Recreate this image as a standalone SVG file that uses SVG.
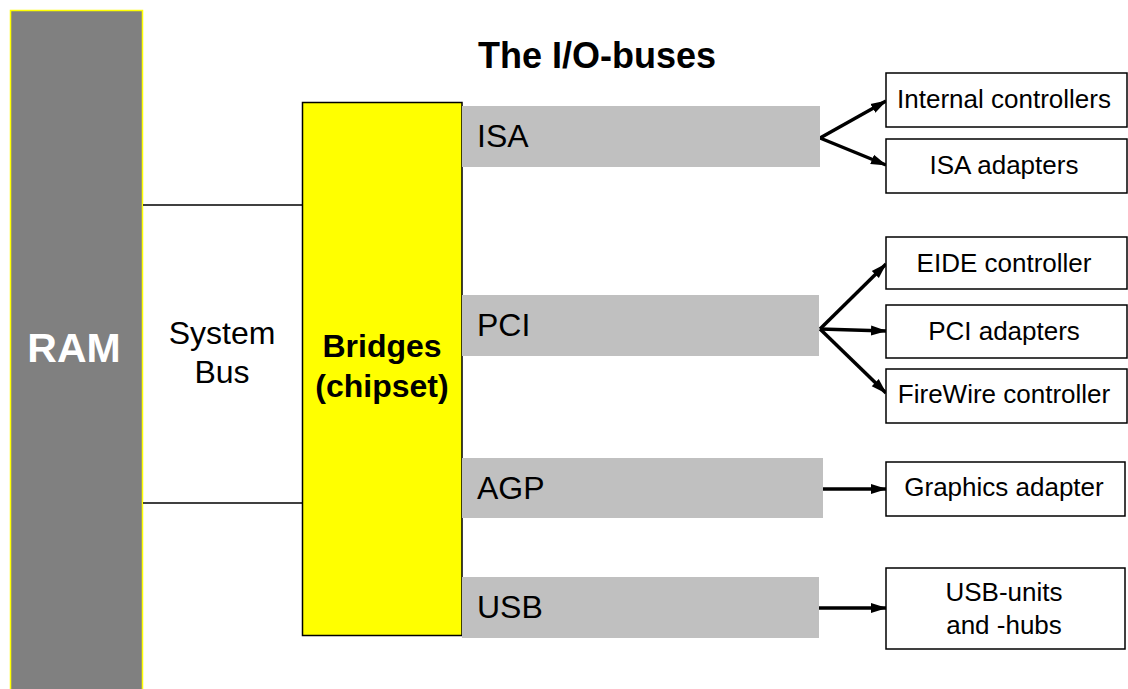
<svg xmlns="http://www.w3.org/2000/svg" width="1128" height="689" viewBox="0 0 1128 689">
<style>
.bar{fill:#c0c0c0}
.box{fill:#fff;stroke:#000;stroke-width:1.5}
.bus{font-family:"Liberation Sans",Arial,sans-serif;font-size:32px;fill:#000}
.bt{font-family:"Liberation Sans",Arial,sans-serif;font-size:26px;fill:#000;text-anchor:middle}
.big{font-family:"Liberation Sans",Arial,sans-serif;font-size:32px;fill:#000;text-anchor:middle}
.arr{stroke:#000;stroke-width:3.5;fill:none;marker-end:url(#ah)}
.sys{stroke:#000;stroke-width:1.5}
</style>
<defs>
<marker id="ah" markerUnits="userSpaceOnUse" markerWidth="16" markerHeight="12" refX="15" refY="6" orient="auto">
<path d="M0,1 L16,6 L0,11 z" fill="#000"/>
</marker>
</defs>
<rect width="1128" height="689" fill="#fff"/>
<g id="ram">
<rect x="10.5" y="10.5" width="132" height="680" fill="#808080" stroke="#ffff00" stroke-width="1.5"/>
<text x="74" y="362" font-family="'Liberation Sans',Arial,sans-serif" font-size="41" font-weight="bold" fill="#fff" text-anchor="middle">RAM</text>
</g>
<g id="connectors">
<line class="sys" x1="143" y1="205" x2="302" y2="205"/>
<line class="sys" x1="143" y1="503" x2="302" y2="503"/>
<line class="arr" x1="820" y1="138" x2="886" y2="101"/>
<line class="arr" x1="820" y1="138" x2="886" y2="165"/>
<line class="arr" x1="820" y1="329" x2="886" y2="264"/>
<line class="arr" x1="820" y1="329" x2="886" y2="331"/>
<line class="arr" x1="820" y1="329" x2="886" y2="393"/>
<line class="arr" x1="823" y1="489" x2="886" y2="489"/>
<line class="arr" x1="819" y1="608" x2="886" y2="608"/>
</g>
<g id="system-bus">
<text class="big" x="222" y="344">System</text>
<text class="big" x="222" y="383">Bus</text>
</g>
<g id="bridges">
<rect x="302.5" y="102.5" width="159.5" height="533" fill="#ffff00" stroke="#000" stroke-width="1.5"/>
<text class="big" x="382" y="357" font-weight="bold">Bridges</text>
<text class="big" x="382" y="397" font-weight="bold">(chipset)</text>
</g>
<g id="title">
<text x="597" y="68" font-family="'Liberation Sans',Arial,sans-serif" font-size="36" font-weight="bold" text-anchor="middle">The I/O-buses</text>
</g>
<g id="isa">
<rect class="bar" x="462" y="106" width="358" height="61"/>
<text class="bus" x="477" y="147">ISA</text>
</g>
<g id="pci">
<rect class="bar" x="462" y="295" width="357" height="61"/>
<text class="bus" x="477" y="336">PCI</text>
</g>
<g id="agp">
<rect class="bar" x="462" y="458" width="361" height="60"/>
<text class="bus" x="477" y="499">AGP</text>
</g>
<g id="usb">
<rect class="bar" x="462" y="577" width="357" height="61"/>
<text class="bus" x="477" y="618">USB</text>
</g>
<g id="internal-controllers">
<rect class="box" x="886" y="73" width="241" height="54"/>
<text class="bt" x="1004" y="108">Internal controllers</text>
</g>
<g id="isa-adapters">
<rect class="box" x="886" y="139" width="241" height="54"/>
<text class="bt" x="1004" y="174">ISA adapters</text>
</g>
<g id="eide-controller">
<rect class="box" x="886" y="237" width="241" height="52"/>
<text class="bt" x="1004" y="272">EIDE controller</text>
</g>
<g id="pci-adapters">
<rect class="box" x="886" y="305" width="241" height="53"/>
<text class="bt" x="1004" y="340">PCI adapters</text>
</g>
<g id="firewire-controller">
<rect class="box" x="886" y="369" width="241" height="54"/>
<text class="bt" x="1004" y="403">FireWire controller</text>
</g>
<g id="graphics-adapter">
<rect class="box" x="886" y="462" width="239" height="54"/>
<text class="bt" x="1004" y="496">Graphics adapter</text>
</g>
<g id="usb-units">
<rect class="box" x="886" y="568" width="239" height="81"/>
<text class="bt" x="1004" y="601">USB-units</text>
<text class="bt" x="1004" y="634">and -hubs</text>
</g>
</svg>
